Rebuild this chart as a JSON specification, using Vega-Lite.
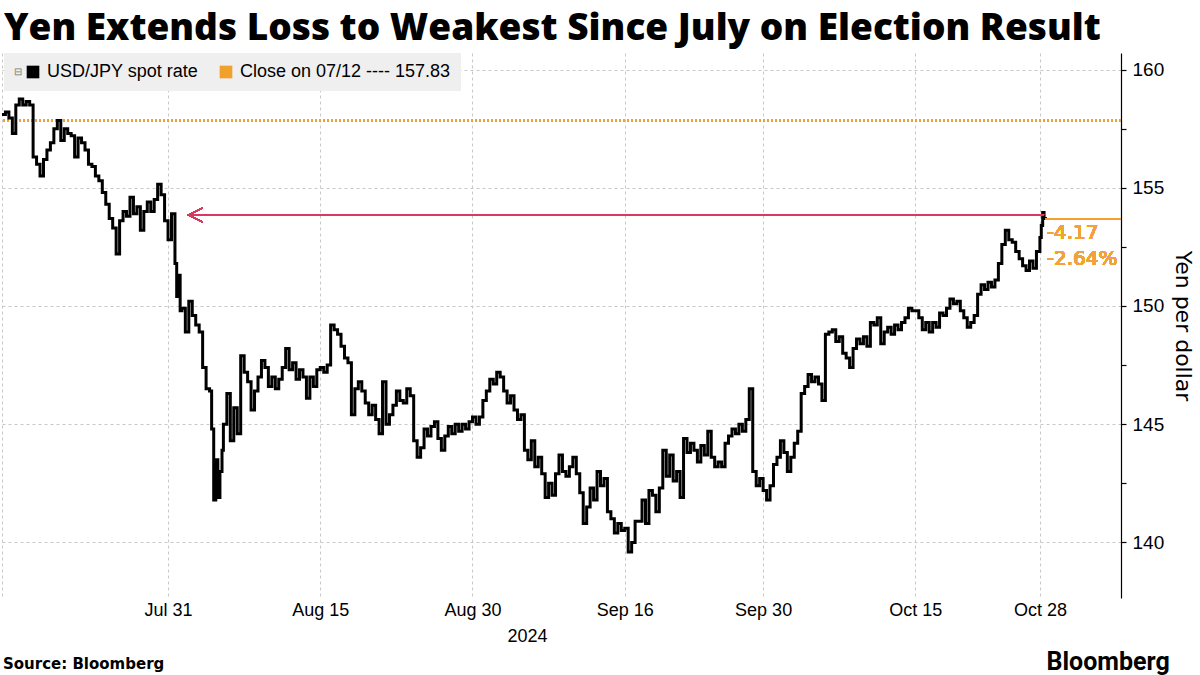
{
  "$schema": "https://vega.github.io/schema/vega-lite/v6.json",
  "padding": {"left": -5, "top": 10, "right": 5, "bottom": 0},
  "background": "#ffffff",
  "title": {"text": "Yen Extends Loss to Weakest Since July on Election Result", "anchor": "start", "font": "Open Sans", "fontWeight": 800, "fontSize": 37, "color": "#000000", "offset": 5, "dx": 8},
  "config": {
    "view": {"stroke": null},
    "font": "Liberation Sans",
    "concat": {"spacing": 0}
  },
  "vconcat": [
    {
      "title": {"text": "Bloomberg", "orient": "bottom", "anchor": "end", "font": "Roboto", "fontWeight": "bold", "fontSize": 25, "color": "#000000", "offset": -22, "dx": -24},
      "vconcat": [
        {
          "title": {"text": "Source: Bloomberg", "orient": "bottom", "anchor": "start", "font": "DejaVu Sans", "fontWeight": "bold", "fontSize": 15, "color": "#000000", "offset": 12, "dx": 7},
          "width": 1120,
          "height": 545,
          "data": {"values": [
            {"s":0,"v":158.1},{"s":0.25,"v":158.2},{"s":0.5,"v":157.95},{"s":0.75,"v":157.3},
            {"s":1,"v":158.5},{"s":1.25,"v":158.75},{"s":1.5,"v":158.5},{"s":1.75,"v":158.65},
            {"s":2,"v":158.5},{"s":2.25,"v":156.3},{"s":2.5,"v":156.0},{"s":2.75,"v":155.5},
            {"s":3,"v":156.2},{"s":3.25,"v":156.6},{"s":3.5,"v":156.9},{"s":3.75,"v":157.5},
            {"s":4,"v":157.85},{"s":4.25,"v":157.0},{"s":4.5,"v":157.5},{"s":4.75,"v":157.3},
            {"s":5,"v":157.2},{"s":5.25,"v":156.3},{"s":5.5,"v":157.1},{"s":5.75,"v":156.9},
            {"s":6,"v":156.6},{"s":6.25,"v":156.0},{"s":6.5,"v":155.9},{"s":6.75,"v":155.5},
            {"s":7,"v":155.3},{"s":7.25,"v":154.8},{"s":7.5,"v":154.3},{"s":7.75,"v":153.7},
            {"s":8,"v":153.3},{"s":8.25,"v":152.2},{"s":8.5,"v":153.6},{"s":8.75,"v":154.0},
            {"s":9,"v":153.8},{"s":9.25,"v":154.6},{"s":9.5,"v":153.9},{"s":9.75,"v":154.2},
            {"s":10,"v":153.2},{"s":10.25,"v":154.0},{"s":10.5,"v":154.4},{"s":10.75,"v":154.0},
            {"s":11,"v":154.5},{"s":11.25,"v":155.15},{"s":11.5,"v":154.7},{"s":11.75,"v":153.6},
            {"s":12,"v":152.8},{"s":12.25,"v":153.9},{"s":12.5,"v":151.8},{"s":12.625,"v":150.4},{"s":12.75,"v":151.3},{"s":12.875,"v":149.8},
            {"s":13,"v":149.9},{"s":13.25,"v":148.9},{"s":13.5,"v":150.2},{"s":13.75,"v":149.6},
            {"s":14,"v":149.2},{"s":14.25,"v":148.9},{"s":14.5,"v":147.4},{"s":14.75,"v":146.5},
            {"s":15,"v":146.4},{"s":15.15,"v":144.8},{"s":15.3,"v":141.8},{"s":15.45,"v":143.5},{"s":15.6,"v":141.9},{"s":15.75,"v":143.0},{"s":15.9,"v":143.9},
            {"s":16,"v":145.0},{"s":16.25,"v":146.3},{"s":16.5,"v":144.3},{"s":16.75,"v":145.7},
            {"s":17,"v":144.6},{"s":17.25,"v":147.9},{"s":17.5,"v":147.2},{"s":17.75,"v":146.8},
            {"s":18,"v":145.6},{"s":18.25,"v":146.4},{"s":18.5,"v":147.0},{"s":18.75,"v":147.7},
            {"s":19,"v":147.4},{"s":19.25,"v":146.6},{"s":19.5,"v":147.0},{"s":19.75,"v":146.5},
            {"s":20,"v":146.9},{"s":20.25,"v":147.4},{"s":20.5,"v":148.2},{"s":20.75,"v":147.3},
            {"s":21,"v":147.6},{"s":21.25,"v":146.9},{"s":21.5,"v":147.3},{"s":21.75,"v":147.0},
            {"s":22,"v":146.1},{"s":22.25,"v":147.0},{"s":22.5,"v":146.6},{"s":22.75,"v":147.3},
            {"s":23,"v":147.4},{"s":23.25,"v":147.2},{"s":23.5,"v":147.5},{"s":23.75,"v":149.2},
            {"s":24,"v":149.0},{"s":24.25,"v":148.8},{"s":24.5,"v":148.3},{"s":24.75,"v":147.8},
            {"s":25,"v":147.6},{"s":25.25,"v":145.4},{"s":25.5,"v":146.5},{"s":25.75,"v":146.8},
            {"s":26,"v":146.4},{"s":26.25,"v":145.9},{"s":26.5,"v":145.4},{"s":26.75,"v":145.8},
            {"s":27,"v":145.2},{"s":27.25,"v":144.6},{"s":27.5,"v":146.8},{"s":27.75,"v":145.0},
            {"s":28,"v":145.4},{"s":28.25,"v":145.8},{"s":28.5,"v":146.4},{"s":28.75,"v":146.0},
            {"s":29,"v":145.9},{"s":29.25,"v":146.5},{"s":29.5,"v":146.2},{"s":29.75,"v":144.3},
            {"s":30,"v":143.6},{"s":30.25,"v":144.0},{"s":30.5,"v":144.8},{"s":30.75,"v":144.5},
            {"s":31,"v":144.9},{"s":31.25,"v":145.1},{"s":31.5,"v":144.4},{"s":31.75,"v":143.9},
            {"s":32,"v":144.5},{"s":32.25,"v":144.9},{"s":32.5,"v":144.6},{"s":32.75,"v":145.0},
            {"s":33,"v":144.7},{"s":33.25,"v":145.0},{"s":33.5,"v":144.8},{"s":33.75,"v":145.1},
            {"s":34,"v":145.3},{"s":34.25,"v":145.0},{"s":34.5,"v":145.3},{"s":34.75,"v":146.0},
            {"s":35,"v":146.4},{"s":35.25,"v":146.9},{"s":35.5,"v":146.7},{"s":35.75,"v":147.2},
            {"s":36,"v":147.0},{"s":36.25,"v":146.4},{"s":36.5,"v":145.9},{"s":36.75,"v":146.2},
            {"s":37,"v":145.6},{"s":37.25,"v":145.2},{"s":37.5,"v":145.4},{"s":37.75,"v":143.9},
            {"s":38,"v":143.5},{"s":38.25,"v":144.3},{"s":38.5,"v":143.2},{"s":38.75,"v":143.6},
            {"s":39,"v":142.9},{"s":39.25,"v":141.9},{"s":39.5,"v":142.5},{"s":39.75,"v":142.0},
            {"s":40,"v":142.9},{"s":40.25,"v":143.7},{"s":40.5,"v":143.0},{"s":40.75,"v":142.8},
            {"s":41,"v":143.2},{"s":41.25,"v":143.6},{"s":41.5,"v":142.9},{"s":41.75,"v":142.1},
            {"s":42,"v":140.8},{"s":42.25,"v":141.5},{"s":42.5,"v":142.3},{"s":42.75,"v":141.8},
            {"s":43,"v":143.0},{"s":43.25,"v":142.4},{"s":43.5,"v":142.7},{"s":43.75,"v":141.3},
            {"s":44,"v":141.0},{"s":44.25,"v":140.4},{"s":44.5,"v":140.8},{"s":44.75,"v":140.5},
            {"s":45,"v":140.6},{"s":45.25,"v":139.6},{"s":45.5,"v":140.0},{"s":45.75,"v":140.9},
            {"s":46,"v":140.9},{"s":46.25,"v":141.8},{"s":46.5,"v":140.8},{"s":46.75,"v":142.2},
            {"s":47,"v":142.0},{"s":47.25,"v":141.3},{"s":47.5,"v":142.3},{"s":47.75,"v":143.9},
            {"s":48,"v":142.8},{"s":48.25,"v":143.7},{"s":48.5,"v":142.6},{"s":48.75,"v":143.0},
            {"s":49,"v":141.9},{"s":49.25,"v":144.4},{"s":49.5,"v":143.8},{"s":49.75,"v":144.2},
            {"s":50,"v":143.9},{"s":50.25,"v":143.4},{"s":50.5,"v":144.1},{"s":50.75,"v":143.7},
            {"s":51,"v":144.7},{"s":51.25,"v":143.6},{"s":51.5,"v":143.2},{"s":51.75,"v":143.4},
            {"s":52,"v":143.2},{"s":52.25,"v":144.2},{"s":52.5,"v":144.5},{"s":52.75,"v":144.8},
            {"s":53,"v":144.6},{"s":53.25,"v":145.0},{"s":53.5,"v":144.7},{"s":53.75,"v":145.2},
            {"s":54,"v":146.5},{"s":54.25,"v":143.0},{"s":54.5,"v":142.4},{"s":54.75,"v":142.7},
            {"s":55,"v":142.2},{"s":55.25,"v":141.8},{"s":55.5,"v":142.4},{"s":55.75,"v":143.3},
            {"s":56,"v":143.6},{"s":56.25,"v":144.3},{"s":56.5,"v":143.8},{"s":56.75,"v":143.0},
            {"s":57,"v":143.6},{"s":57.25,"v":144.2},{"s":57.5,"v":144.7},{"s":57.75,"v":146.3},
            {"s":58,"v":146.6},{"s":58.25,"v":147.1},{"s":58.5,"v":146.8},{"s":58.75,"v":147.0},
            {"s":59,"v":146.7},{"s":59.25,"v":146.0},{"s":59.5,"v":148.8},{"s":59.75,"v":148.9},
            {"s":60,"v":149.0},{"s":60.25,"v":148.5},{"s":60.5,"v":148.7},{"s":60.75,"v":148.0},
            {"s":61,"v":147.8},{"s":61.25,"v":147.4},{"s":61.5,"v":148.2},{"s":61.75,"v":148.6},
            {"s":62,"v":148.4},{"s":62.25,"v":148.7},{"s":62.5,"v":148.3},{"s":62.75,"v":149.3},
            {"s":63,"v":149.2},{"s":63.25,"v":149.5},{"s":63.5,"v":148.4},{"s":63.75,"v":148.9},
            {"s":64,"v":149.1},{"s":64.25,"v":148.8},{"s":64.5,"v":149.2},{"s":64.75,"v":149.0},
            {"s":65,"v":149.3},{"s":65.25,"v":149.5},{"s":65.5,"v":149.9},{"s":65.75,"v":149.8},
            {"s":66,"v":149.8},{"s":66.25,"v":149.5},{"s":66.5,"v":149.0},{"s":66.75,"v":149.3},
            {"s":67,"v":148.9},{"s":67.25,"v":149.3},{"s":67.5,"v":149.1},{"s":67.75,"v":149.7},
            {"s":68,"v":149.6},{"s":68.25,"v":149.9},{"s":68.5,"v":150.3},{"s":68.75,"v":150.1},
            {"s":69,"v":150.2},{"s":69.25,"v":149.8},{"s":69.5,"v":149.5},{"s":69.75,"v":149.1},
            {"s":70,"v":149.3},{"s":70.25,"v":149.6},{"s":70.5,"v":150.5},{"s":70.75,"v":150.9},
            {"s":71,"v":150.7},{"s":71.25,"v":151.0},{"s":71.5,"v":150.8},{"s":71.75,"v":151.1},
            {"s":72,"v":151.8},{"s":72.25,"v":152.6},{"s":72.5,"v":153.2},{"s":72.75,"v":152.8},
            {"s":73,"v":152.7},{"s":73.25,"v":152.3},{"s":73.5,"v":152.0},{"s":73.75,"v":151.7},
            {"s":74,"v":151.5},{"s":74.25,"v":151.9},{"s":74.5,"v":151.6},{"s":74.75,"v":152.3},
            {"s":75,"v":152.9},{"s":75.1,"v":153.4},{"s":75.2,"v":153.95},{"s":75.3,"v":153.7},{"s":75.4,"v":153.66}
          ]},
          "encoding": {
            "x": {"field": "s", "type": "quantitative",
              "scale": {"domain": [-0.07, 80.86], "nice": false, "zero": false},
              "axis": {"values": [0, 12, 23, 34, 45, 55, 66, 75],
                "labelExpr": "datum.value == 12 ? 'Jul 31' : datum.value == 23 ? 'Aug 15' : datum.value == 34 ? 'Aug 30' : datum.value == 45 ? 'Sep 16' : datum.value == 55 ? 'Sep 30' : datum.value == 66 ? 'Oct 15' : datum.value == 75 ? 'Oct 28' : ''",
                "grid": true, "gridColor": "#c8c8c8", "gridDash": [3, 3], "gridWidth": 1,
                "domain": false, "ticks": false,
                "labelFontSize": 18, "labelColor": "#000000", "labelPadding": 3, "labelFont": "Liberation Sans",
                "title": "2024", "titleFontSize": 18, "titleFontWeight": "normal", "titleColor": "#000000", "titleFont": "Liberation Sans", "titleX": 526, "titlePadding": 8}},
            "y": {"field": "v", "type": "quantitative",
              "scale": {"domain": [137.65, 160.7], "nice": false, "zero": false},
              "axis": {"orient": "right",
                "values": [140, 142.5, 145, 147.5, 150, 152.5, 155, 157.5, 160],
                "format": "d",
                "labelExpr": "datum.value % 5 == 0 ? datum.label : ''",
                "grid": true, "gridColor": "#c8c8c8", "gridDash": [3, 3], "gridWidth": 1,
                "gridOpacity": {"condition": {"test": "datum.value % 5 == 0", "value": 1}, "value": 0},
                "domain": true, "domainColor": "#000000", "domainWidth": 1.2,
                "ticks": true, "tickColor": "#000000", "tickSize": 5, "tickWidth": 1.2,
                "labelFontSize": 19, "labelColor": "#000000", "labelPadding": 6, "labelFont": "Liberation Sans",
                "title": "Yen per dollar", "titleFontSize": 22, "titleFontWeight": "normal", "titleColor": "#000000", "titleFont": "DejaVu Sans", "titlePadding": 7}}
          },
          "layer": [
            {
              "mark": {"type": "rule", "strokeDash": [2, 2], "strokeWidth": 2},
              "encoding": {
                "x": null,
                "y": {"datum": 157.83, "type": "quantitative"},
                "color": {"datum": "Close on 07/12 ---- 157.83", "type": "nominal"}
              }
            },
            {
              "mark": {"type": "line", "interpolate": "step-after", "strokeWidth": 3, "strokeJoin": "miter"},
              "encoding": {
                "color": {"datum": "USD/JPY spot rate", "type": "nominal",
                  "scale": {"domain": ["USD/JPY spot rate", "Close on 07/12 ---- 157.83"], "range": ["#000000", "#f2a02c"]},
                  "legend": {"orient": "none", "legendX": 3, "legendY": 0, "direction": "horizontal",
                    "title": "⊟", "titleOrient": "left", "titleFontSize": 10, "titleColor": "#777777", "titleFontWeight": "normal", "titlePadding": 2,
                    "fillColor": "#efefef", "padding": 10, "symbolType": "square", "symbolSize": 160,
                    "labelFontSize": 18, "labelColor": "#000000", "labelFont": "Liberation Sans", "labelOffset": 5, "labelLimit": 400, "columnPadding": 18,
                    "encode": {"symbols": {"update": {"fill": {"scale": "color", "field": "value"}, "strokeWidth": {"value": 0}, "opacity": {"value": 1}}}}}
                }
              }
            },
            {
              "mark": {"type": "rule", "color": "#d93a5e", "strokeWidth": 1.3},
              "encoding": {
                "x": {"datum": 13.5, "type": "quantitative"},
                "x2": {"datum": 75.3},
                "y": {"datum": 153.85, "type": "quantitative"}
              }
            },
            {
              "mark": {"type": "point", "shape": "M1,-1L-1,0L1,1", "filled": false, "color": "#d93a5e", "strokeWidth": 1.3, "size": 196, "opacity": 1},
              "encoding": {
                "x": {"datum": 14.0, "type": "quantitative"},
                "y": {"datum": 153.85, "type": "quantitative"}
              }
            },
            {
              "mark": {"type": "rule", "color": "#f2a02c", "strokeWidth": 1.3},
              "encoding": {
                "x": {"datum": 75.4, "type": "quantitative"},
                "x2": {"datum": 80.86},
                "y": {"datum": 153.66, "type": "quantitative"}
              }
            },
            {
              "mark": {"type": "text", "align": "left", "baseline": "middle", "fontSize": 20, "fontWeight": 400, "color": "#f0a33a", "font": "DejaVu Sans"},
              "encoding": {
                "x": {"datum": 75.5, "type": "quantitative"},
                "y": {"datum": 153.1, "type": "quantitative"},
                "text": {"value": "-4.17"}
              }
            },
            {
              "mark": {"type": "text", "align": "left", "baseline": "middle", "fontSize": 20, "fontWeight": 400, "color": "#f0a33a", "font": "DejaVu Sans"},
              "encoding": {
                "x": {"datum": 75.5, "type": "quantitative"},
                "y": {"datum": 152.0, "type": "quantitative"},
                "text": {"value": "-2.64%"}
              }
            }
          ]
        }
      ]
    }
  ]
}
